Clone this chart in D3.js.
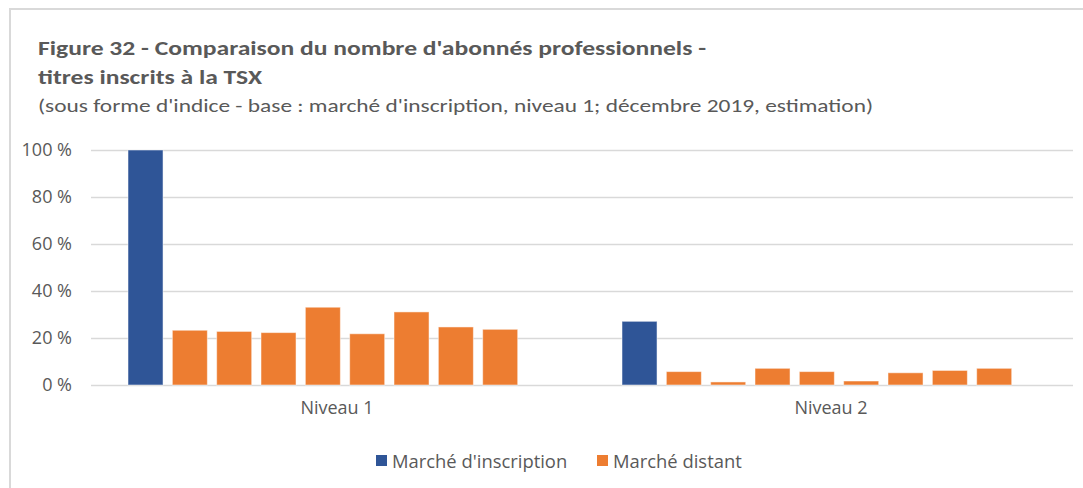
<!DOCTYPE html>
<html><head><meta charset="utf-8">
<script src="https://cdn.jsdelivr.net/npm/d3@7"></script>
<style>body{margin:0;background:#fff}svg{display:block}</style>
</head><body><svg id="c" width="1083" height="488"></svg>
<script>
const categories = ["Niveau 1", "Niveau 2"];
const seriesNames = ["Marché d'inscription", "Marché distant"];
const inscription = [100, 27.1];
const distantNiveau1 = [23.3, 22.8, 22.3, 33.1, 21.8, 31.1, 24.7, 23.7];
const distantNiveau2 = [5.7, 1.3, 7.1, 5.7, 1.7, 5.2, 6.2, 7.1];
const yTicks = [0, 20, 40, 60, 80, 100];
const colors = ["#2F5597", "#ED7D31"];

const svg = d3.select("#c");
const font = "Calibri, Carlito, 'Liberation Sans Narrow', 'Open Sans', sans-serif";
const font2 = "'Open Sans', 'Segoe UI', sans-serif";
const grey = "#595959";

// frame
svg.append("path").attr("d","M10,488 V9 H1083").attr("fill","none").attr("stroke","#D9D9D9").attr("stroke-width",2);

// titles
svg.append("text").attr("x",38).attr("y",55).attr("font-family",font).attr("font-weight","bold").attr("font-size",20).attr("fill",grey)
  .attr("textLength",668).attr("lengthAdjust","spacingAndGlyphs")
  .text("Figure 32 - Comparaison du nombre d'abonnés professionnels -");
svg.append("text").attr("x",38).attr("y",84).attr("font-family",font).attr("font-weight","bold").attr("font-size",20).attr("fill",grey)
  .attr("textLength",224).attr("lengthAdjust","spacingAndGlyphs")
  .text("titres inscrits à la TSX");
svg.append("text").attr("x",38).attr("y",112).attr("font-family",font).attr("font-size",19).attr("fill",grey)
  .attr("textLength",835).attr("lengthAdjust","spacingAndGlyphs")
  .text("(sous forme d'indice - base : marché d'inscription, niveau 1; décembre 2019, estimation)");

const y = d3.scaleLinear().domain([0,100]).range([385,150]);
const x0 = d3.scaleBand().domain(categories).range([90,1078]);

const data = categories.map((c,i)=>({cat:c, values:[{s:0,v:inscription[i]}].concat((i===0?distantNiveau1:distantNiveau2).map(v=>({s:1,v})))}));
const x1 = d3.scaleBand().domain(d3.range(9)).range([38, 38+9*43.3]).paddingInner(0.21).paddingOuter(0);

// gridlines
const yAxis = d3.axisLeft(y).tickValues(yTicks).tickSize(-(1073-91)).tickFormat(d=>d+" %").tickPadding(19);
const ga = svg.append("g").attr("transform","translate(91,0)").call(yAxis);
ga.select(".domain").remove();
ga.selectAll(".tick line").attr("stroke","#D9D9D9").attr("stroke-width",1.5);
ga.selectAll(".tick text").attr("font-family",font2).attr("font-size",18).attr("fill",grey);

// bars
const groups = svg.append("g").selectAll("g").data(data).join("g")
  .attr("transform",d=>`translate(${x0(d.cat)},0)`);
groups.selectAll("rect").data(d=>d.values).join("rect")
  .attr("x",(d,i)=>x1(i)).attr("width",x1.bandwidth())
  .attr("y",d=>y(d.v)).attr("height",d=>y(0)-y(d.v))
  .attr("fill",d=>colors[d.s]).attr("stroke","#fff").attr("stroke-opacity",0.5).attr("stroke-width",1);

// category axis labels
const xAxis = d3.axisBottom(x0).tickSize(0).tickPadding(16);
const gx = svg.append("g").attr("transform","translate(0,385)").call(xAxis);
gx.select(".domain").remove();
gx.selectAll(".tick text").attr("font-family",font2).attr("font-size",18).attr("fill",grey);

// legend
const legendX = [376, 597];
const lg = svg.append("g").selectAll("g").data(seriesNames).join("g")
  .attr("transform",(d,i)=>`translate(${legendX[i]},455)`);
lg.append("rect").attr("width",11).attr("height",11).attr("fill",(d,i)=>colors[i]);
lg.append("text").attr("x",16).attr("y",12.5).attr("font-family",font2).attr("font-size",18.4).attr("fill",grey).text(d=>d);
</script></body></html>
